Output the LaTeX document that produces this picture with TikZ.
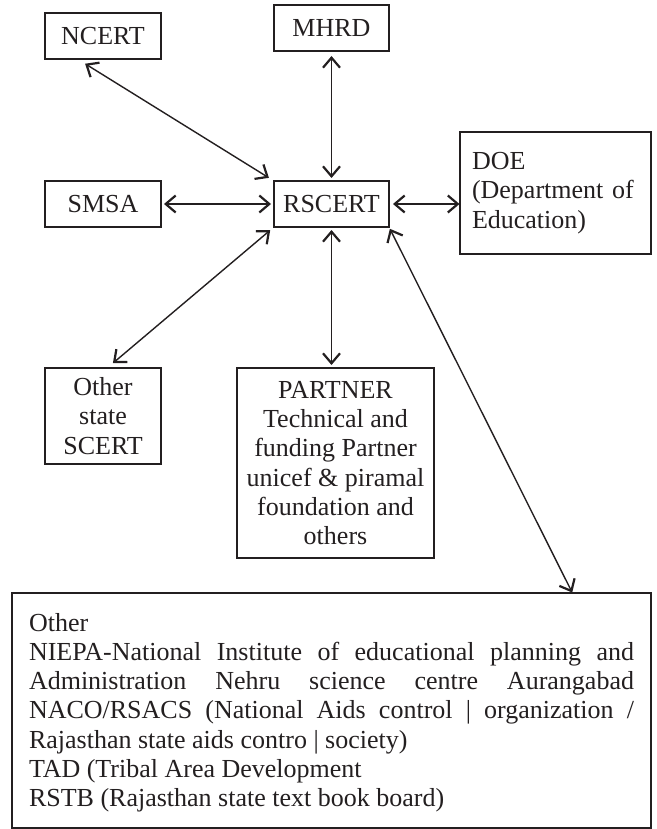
\documentclass[tikz,border=0pt]{standalone}
\usepackage{fontspec}
\setmainfont{Liberation Serif}
\usetikzlibrary{arrows.meta}
\definecolor{ink}{HTML}{231F20}
\tikzset{
  box/.style={draw=ink, line width=1.7pt, inner sep=0pt, outer sep=0pt,
    text=ink, font=\fontsize{26}{29.3}\selectfont},
  tipmark/.tip={Straight Barb[length=10pt,width=17pt,line width=2.2pt]},
  link/.style={draw=ink, line width=1.4pt, tipmark-tipmark},
}
\begin{document}
\begin{tikzpicture}[x=1pt,y=-1pt]
\useasboundingbox (0,0) rectangle (656,829);
\node[box, minimum width=116pt, minimum height=46pt] (ncert) at (103,36) {NCERT};
\node[box, minimum width=115pt, minimum height=46pt] (mhrd) at (331.5,28) {MHRD};
\node[box, minimum width=116pt, minimum height=46pt] (smsa) at (103,204) {SMSA};
\node[box, minimum width=115pt, minimum height=46pt] (rscert) at (331.5,204) {RSCERT};
\node[box, minimum height=122pt, text width=167pt, inner xsep=12pt, align=left] (doe) at (555.5,193)
  {DOE\\(Department of\\Education)};
\node[box, minimum width=116pt, minimum height=96pt, align=center] (other) at (103,416)
  {Other\\state\\SCERT};
\node[box, minimum width=197pt, minimum height=190pt, align=center] (partner) at (335.5,463)
  {PARTNER\\Technical and\\funding Partner\\unicef \& piramal\\foundation and\\others};
\node[box, inner xsep=17pt, inner ysep=20pt] (bottom) at (331.5,710.5)
  {\parbox[c][195pt][t]{605pt}{%
    Other\\
    \makebox[\linewidth][s]{NIEPA-National Institute of educational planning and}\\
    \makebox[\linewidth][s]{Administration Nehru science centre Aurangabad}\\
    \makebox[\linewidth][s]{NACO/RSACS (National Aids control | organization /}\\
    Rajasthan state aids contro | society)\\
    TAD (Tribal Area Development\\
    RSTB (Rajasthan state text book board)}};

\draw[link, shorten <=9pt, shorten >=6pt] (ncert.222.6) -- (rscert.north west);
\draw[link, shorten <=5pt, shorten >=3pt] (mhrd.south) -- (rscert.north);
\draw[link, shorten <=3pt, shorten >=3pt] (smsa.east) -- (rscert.west);
\draw[link, shorten <=4pt, shorten >=0.5pt] (rscert.east) -- (rscert.east -| doe.west);
\draw[link, shorten <=5pt, shorten >=7.5pt] (rscert.south west) -- (other.85);
\draw[link, shorten <=3pt, shorten >=3pt] (rscert.south) -- (rscert.south |- partner.north);
\draw[link, shorten <=2pt, shorten >=0.5pt] (rscert.south east) -- (bottom.26.9);
\end{tikzpicture}
\end{document}
